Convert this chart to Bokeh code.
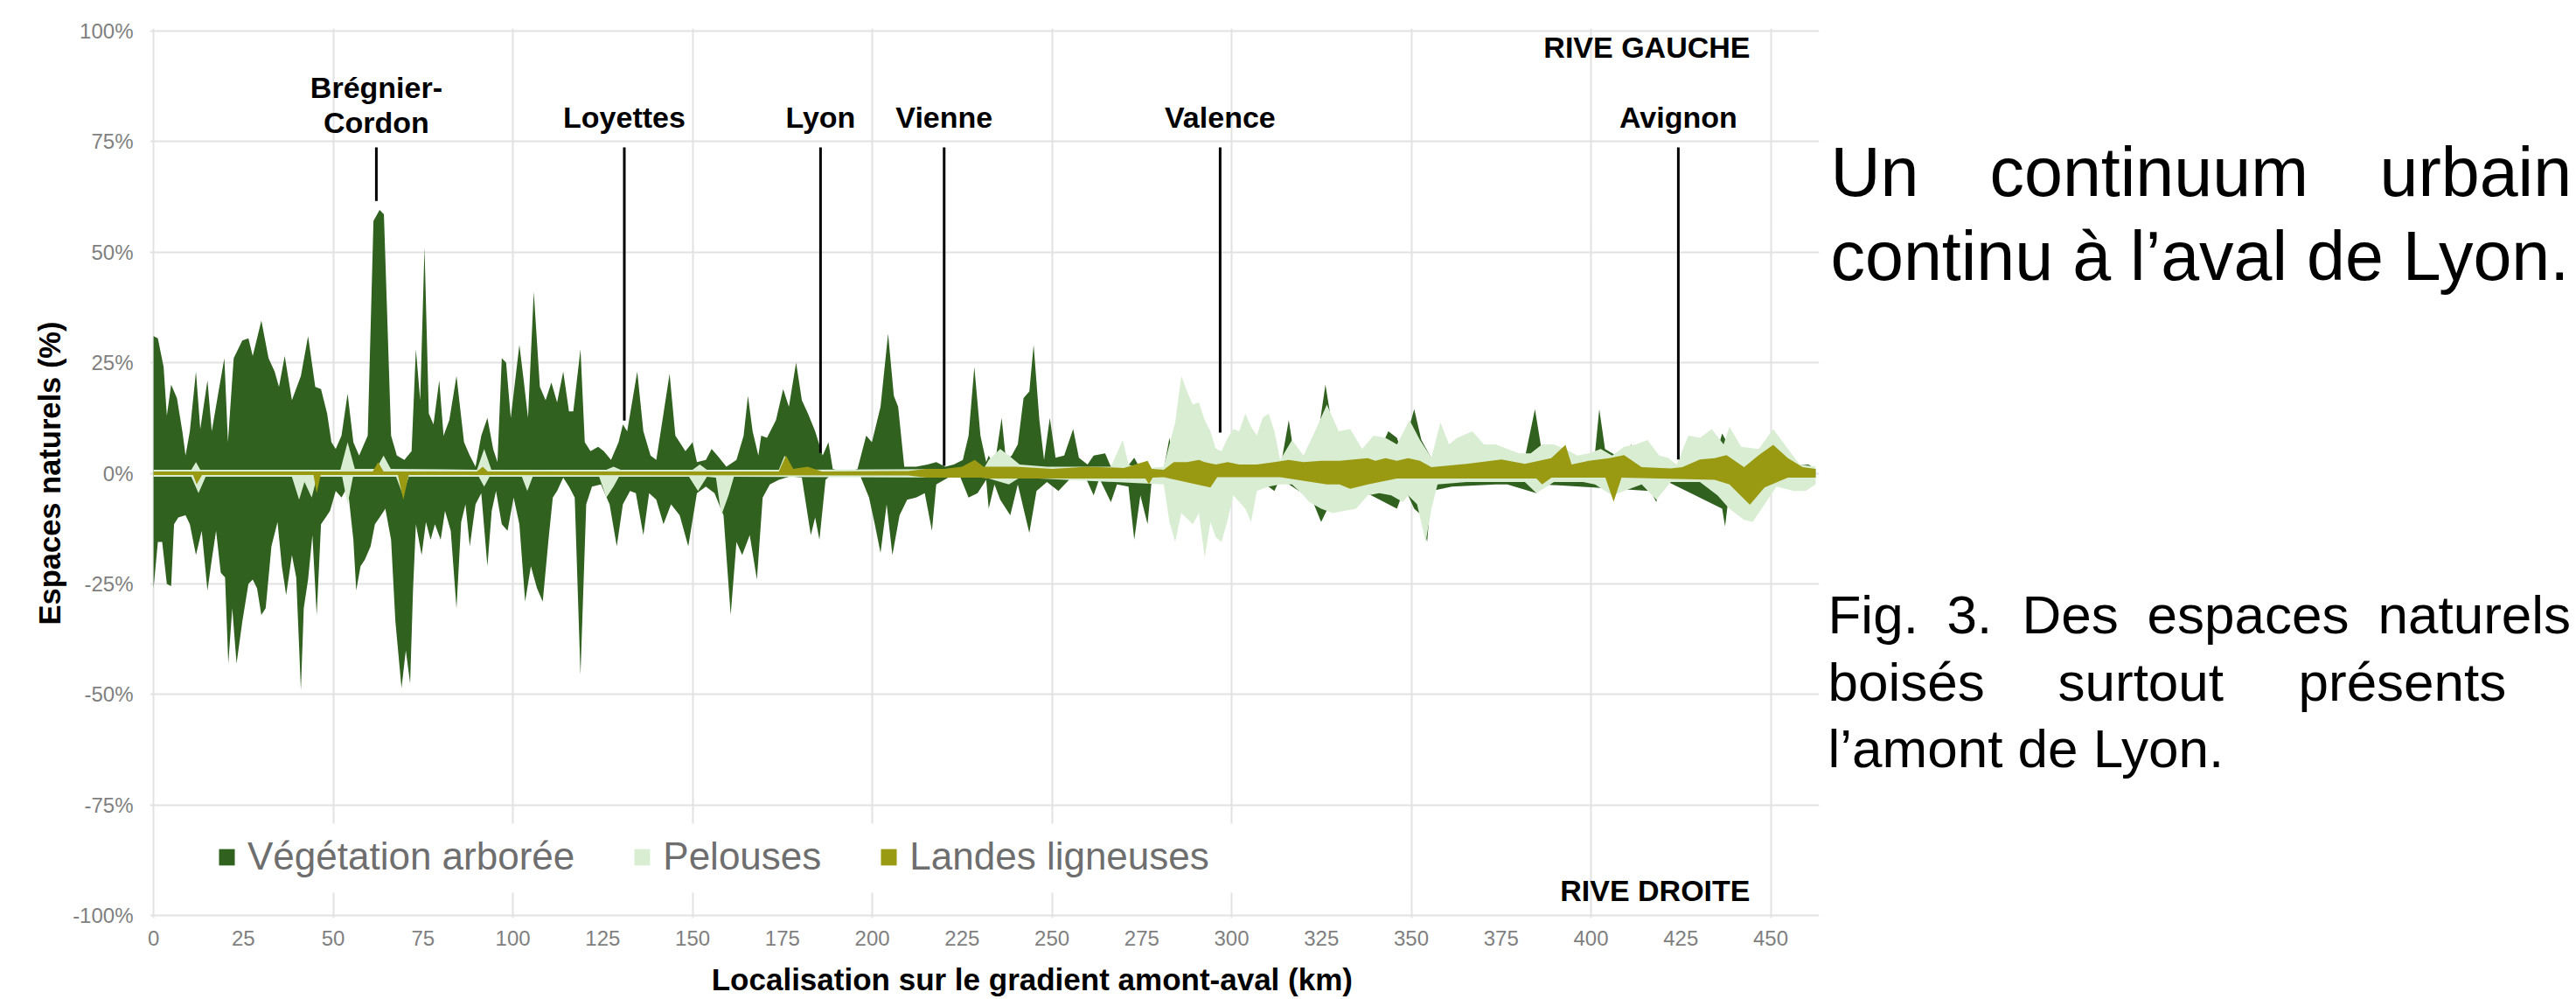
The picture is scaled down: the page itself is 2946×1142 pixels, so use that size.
from bokeh.plotting import figure
from bokeh.layouts import row, column
from bokeh.models import (Range1d, FixedTicker, PrintfTickFormatter, Label, Legend,
                          LegendItem, BoxAnnotation)
from bokeh.embed import file_html
from bokeh.resources import INLINE

# ---------------- data (km along the Rhône, % of natural spaces) ----------------
# Positive = rive gauche, negative = rive droite
VEG_GAUCHE = [(0,31),(1.2,30.5),(2.8,24),(3.7,13),(4.9,20),(6.5,17),(8.1,9),(8.9,4),(10.1,9.5),(11.8,23),
    (13,10),(15,21),(16.2,9.5),(18.2,19),(19.7,26),(20.7,7),(22.3,26),(24.7,30),(26.4,30.5),(27.6,26.5),
    (30,34.5),(32,26),(33.7,23),(34.9,19.5),(36.5,26.5),(38.5,16.5),(41,22),(43,31),(45,19.5),(46.6,19),
    (48.3,13.5),(49.5,7),(50.7,5.5),(52.3,8.5),(54,18),(55.6,7),(57.2,4),(59.6,8.5),(61.2,57),(62.9,59.5),
    (64.1,58.5),(66.1,8.5),(67.7,4),(69.8,3),(71.8,5),(73,28),(74.2,16.5),(75.4,51),(76.6,13.5),(77.9,11),
    (79.5,21),(80.7,8.5),(82.3,12),(84.3,22),(86.4,7),(88,4),(89.6,1.5),(91.2,8.5),(92.9,12.5),(94.5,5.5),
    (95.7,2.5),(96.9,26),(98.1,25),(99.4,12.5),(101.8,29),(103,21),(104.2,12.5),(105.8,41),(107.5,19.5),
    (109.1,16.5),(110.7,20.5),(112.3,16),(114,23),(115.6,14),(116.8,14),(118.8,28),(120,7),(121.6,5),
    (123.7,6),(125.3,5),(127.3,3),(129.4,7),(130.6,11),(131.8,9.5),(134.6,23),(136.3,9.5),(138.3,4),
    (139.9,3),(141.9,13.5),(143.6,22.5),(145.2,8.5),(148,5),(150,7),(151.2,2.5),(153.7,3),(155.3,5.5),
    (156.9,4),(159.4,1.5),(162.2,3),(164.2,8.5),(165.4,17.5),(166.7,9.5),(168.3,4),(169.1,8.5),(170.7,8),
    (173.2,12),(175.2,19),(176.8,15),(178.8,25),(180.4,16.5),(182.1,13.5),(184.1,9.5),(186.2,4),(187.8,7),
    (189,1),(191,0.5),(193.4,0.2),(195.9,1),(198.3,8.5),(199.9,7),(202.3,15),(204.4,31.5),(206,17.5),
    (207.2,15),(208.9,1.5),(212.2,1.5),(215.4,2),(217.8,2.5),(220.3,1.5),(222.7,2),(225.2,3),(226.8,8.5),
    (228.4,24),(230.1,8.5),(231.7,2.5),(232.4,4),(234,1.5),(236,12.5),(237.2,3),(238.8,4),(240.5,6.5),
    (242.1,17),(243.7,18.5),(244.9,29),(246.5,12),(247.8,3),(249.4,12.5),(251,3.5),(253.4,4),(255.9,10),
    (257.5,3.5),(259.9,2),(261.6,4),(264.8,4.5),(266.4,1.5),(268.1,3.5),(270.5,1),(272.9,3.5),(274.6,1),
    (281.1,1),(282.7,8),(283.9,1.5),(295.6,5.5),(297.2,4.5),(298.9,1),(313.5,1),(315.9,12),(317.6,3),
    (320,4),(323.2,4),(326.1,20),(328.1,10),(329.8,4),(336.3,4),(341.1,5),(343.6,9.5),(346,8),(347.7,4),
    (349.1,9.5),(350.8,14.5),(352.8,7.5),(355.2,4),(357.3,1),(381.6,3.5),(384.4,14.5),(386,6.5),(388,1),
    (401.1,4.5),(402.3,14.5),(403.9,5.5),(409,3),(411.2,6.5),(413.3,2),(420,1),(434,2),(436.5,9),
    (438.1,6.5),(440.1,4),(445,1),(460.5,2),(462.5,1)]

VEG_DROITE = [(0,-26),(1.2,-15.5),(2.4,-15.5),(3.7,-25),(4.9,-25.5),(5.7,-11.5),(6.9,-10),(8.9,-9.5),
    (10.1,-11.5),(11.8,-18.5),(13.4,-13),(15,-26.5),(16.2,-19.5),(17.4,-13),(18.7,-22.5),(19.9,-23.5),
    (20.8,-43),(21.9,-30.5),(23.1,-43),(24.7,-33.5),(26.4,-25),(27.6,-24),(28.8,-26),(30,-32),(31.2,-30.5),
    (32.8,-16.5),(34.5,-11),(35.7,-21),(36.9,-27.5),(38.5,-18.5),(39.7,-23.5),(41,-49),(41.8,-30.5),
    (43,-24),(44.2,-14),(45.4,-32),(46.6,-11.5),(47.9,-10),(49.1,-8.5),(50.7,-4),(52.3,-5.5),(54,-3),
    (55.6,-15),(56.4,-26.5),(57.6,-21),(58.8,-19.5),(60.4,-16.5),(61.6,-11.5),(62.9,-10),(64.5,-8),
    (66.1,-15),(67.3,-33.5),(69,-48.5),(70.2,-40),(71.4,-47.5),(72.2,-26.5),(73,-11.5),(74.6,-18.5),
    (75.8,-11),(77.1,-15),(78.3,-11.5),(79.9,-15),(81.1,-8.5),(82.7,-13),(84.3,-30.5),(85.6,-11),(86.8,-7),
    (88,-16.5),(89.6,-7),(91.2,-4.5),(92.9,-21),(94.1,-8.5),(95.3,-4),(96.9,-11.5),(98.5,-13),(100.2,-5.5),
    (101.8,-11.5),(103.4,-29),(105,-21),(106.7,-26),(108.3,-29),(109.9,-15),(111.1,-5.5),(112.3,-4),
    (114,-1),(115.6,-3),(117.2,-5.5),(118.8,-45.5),(120.4,-7),(122,-3),(124.5,-2.5),(126.9,-7),(128.9,-16.5),
    (130.6,-7),(132.6,-4),(134.2,-4.5),(136.3,-14),(137.9,-4.5),(139.9,-6),(141.9,-11.5),(144,-7),
    (146.4,-9.5),(148.8,-16.5),(151.2,-4.5),(153.7,-3),(156.1,-4.5),(158.6,-9.5),(160.6,-32),(162.2,-15.5),
    (163.8,-18.5),(165.9,-14),(167.9,-24),(169.5,-5.5),(171.5,-2.5),(174,-1.5),(177.2,-0.7),(180.4,-1),
    (182.9,-14),(184.1,-10),(185.3,-15),(187,-1.5),(188.6,-0.3),(192.6,-0.3),(196.7,-0.7),(199.1,-5.5),
    (200.7,-11.5),(202.3,-18),(204,-7),(205.6,-18.5),(207.6,-9.5),(209.7,-6),(212.2,-5.5),(214.6,-4.5),
    (216.6,-13),(217.8,-2.5),(221.1,-1),(224.4,-0.7),(226.8,-5.5),(229.3,-4.5),(231.7,-1.5),(232.4,-8),
    (234,-2.5),(235.6,-6),(238.4,-9.5),(240.5,-2.5),(243.7,-13.5),(245.7,-4),(248.6,-2),(251.8,-4),
    (255.1,-1.2),(259.1,-0.5),(261.6,-5),(263.2,-1.2),(266.4,-6.5),(268.1,-2.5),(271.3,-3),(272.9,-15),
    (274.6,-5),(276.6,-11.5),(277.8,-1.2),(281.1,-0.5),(295.6,-1.2),(309.4,-2.5),(311.9,-4),(313.5,-1.2),
    (322.4,-6),(324.9,-11),(327.3,-7),(329.8,-1.2),(346,-8),(348.5,-2.5),(349.1,-5),(350.8,-8),(352.8,-9.5),
    (354.4,-15.5),(355.6,-4),(361.3,-3),(373.5,-2.5),(376.7,-2.5),(384.8,-4.5),(386.4,-2.5),(416.5,-4),
    (418.2,-6.5),(419,-1),(436.5,-8),(437.3,-12),(438.5,-4),(445,-1),(462.5,-1)]

PEL_GAUCHE = [(0,0.8),(10.5,0.8),(11.8,2.5),(13,0.8),(52,0.8),(54,7),(56,1),(62,1),(64,4),(66,1),(90,0.8),
    (92,5.5),(94,0.8),(126,0.8),(128,1.5),(130,0.8),(150,0.8),(152,2),(154,0.8),(174,0.8),(175.6,4),(177,0.8),
    (231,1),(232.4,3),(235.6,5.5),(238,4),(241,2),(248.6,1.5),(266.4,1.5),(269.7,7.5),(271.3,2),(274.6,1),
    (281.1,1.5),(284.3,11.5),(286,22),(287.6,18.5),(289.2,15.5),(290.9,16),(292.5,12),(294.1,9.5),
    (295.6,5.5),(297.2,5),(298.9,8),(300.5,10),(302.1,9.5),(303.8,13.5),(305.4,10.5),(307,8.5),(308.6,12.5),
    (310.3,13.5),(311.9,9.5),(313.5,3),(316.8,7.5),(320,4),(323.2,9.5),(326.5,15.5),(329.8,9.5),(333,10),
    (336.3,5.5),(339.5,8.5),(342.8,8),(346,6.5),(349.5,12),(352.4,7.5),(355.6,3.5),(358.1,11.5),(360.5,6.5),
    (362.8,8),(367,9.5),(370.2,6.5),(373.5,6.5),(376.7,5.5),(380,4.5),(383.2,4.5),(386.4,6.5),(389.7,6.5),
    (392.9,5.5),(396.2,4),(399.4,4.5),(402.7,5.5),(405.9,4),(409.2,6),(412.5,6.5),(415.7,7.5),(419,4),
    (421.4,3.5),(423.8,2),(427.1,8.5),(430.3,8),(433.6,10),(436.9,6.5),(438.5,10.5),(441.8,6),(446.7,5.5),
    (450.7,10),(454.8,5.5),(458.1,2),(462.5,1.5)]

PEL_DROITE = [(0,-0.8),(10.5,-0.8),(12.5,-4.5),(14.5,-0.8),(38.5,-0.8),(40.5,-6),(42,-2),(44,-5.5),
    (45.5,-0.8),(52.5,-0.8),(54,-7),(55.5,-0.8),(67.5,-0.8),(69.4,-5),(71,-0.8),(90.5,-0.8),(92,-3),
    (93.5,-0.8),(102.5,-0.8),(104,-4),(105.5,-0.8),(124,-0.8),(126,-5.5),(128,-3),(129.5,-0.8),(149,-0.8),
    (151.5,-4),(154,-0.8),(156.5,-1),(158,-9.5),(160,-5),(161.5,-0.8),(231,-1),(232.4,-1.2),(238,-2.5),
    (241,-1),(281.1,-2.5),(282.7,-11),(284.3,-15.5),(286,-9),(289.2,-11.5),(290.9,-9),(292.5,-19),
    (294.1,-11),(295.6,-14.5),(297.2,-15.5),(298.9,-10.5),(300.5,-5),(303.8,-8),(305.4,-11),(307,-4),
    (310.3,-3),(313.5,-2.5),(316.8,-2.5),(320,-5),(321.6,-6.5),(324.9,-8),(328.1,-9),(331.4,-8.5),
    (334.6,-8),(337.9,-5),(341.1,-4.5),(344.4,-5),(347.7,-6.5),(349.1,-5),(351.6,-7),(354,-15.5),
    (355.6,-8),(357.3,-2.5),(365.4,-2),(381.6,-2),(384.8,-4.5),(389.7,-2),(397.8,-2),(401.1,-2.5),
    (405.9,-5),(414.1,-2.5),(418.2,-6),(422.2,-2),(430.3,-2),(435.2,-5),(438.5,-8),(442.6,-10.5),
    (445,-11),(448.3,-7),(451.6,-3),(456.4,-4),(459.7,-4),(462.5,-2.5)]

LAN_GAUCHE = [(0,0.4),(61,0.4),(62.5,2.5),(64,0.4),(90,0.4),(91.6,1.5),(93,0.4),(174,0.4),(176,4),(178,1),
    (182,1.5),(186,0.4),(210,0.5),(215,1),(220,1),(225,1.5),(228.5,3),(231,1.5),(232.4,1.5),(240,1.5),
    (250,1),(260,1.5),(270,1.2),(276.6,2.8),(277.8,1),(281.1,0.8),(283.9,2.5),(287.6,2.5),(290.9,3),
    (292.5,2.5),(295.6,2),(298.9,2.5),(302.1,2),(307,2),(311.9,2.5),(315.9,3),(320,2.5),(325,2.8),(330,2.8),
    (337.9,3.4),(340,2.8),(342.8,3.4),(346,2.8),(349.1,3.4),(352.4,2.8),(355.6,1.4),(365.4,2.1),(375.1,3.1),
    (381.6,2.1),(388.9,3.4),(392.9,6.4),(394.6,2),(399.4,2.8),(405.1,3.4),(409.2,4.1),(414.1,1.4),
    (422.2,1.1),(425.4,1.4),(430.3,3.1),(434.4,3.4),(437.7,4.1),(442.6,1.4),(446.7,4.1),(450.7,6.4),
    (454.8,3.4),(458.9,1.4),(462.5,1)]

LAN_DROITE = [(0,-0.4),(11,-0.4),(12,-2.5),(13.5,-0.4),(44.5,-0.4),(45.4,-4.5),(46.5,-0.4),(68,-0.4),
    (69.5,-6),(71,-0.4),(210,-0.5),(215,-1),(230,-1),(232.4,-1.2),(276,-1.2),(277,-2.5),(278,-1),
    (281.1,-0.9),(294.1,-3.2),(296,-0.9),(313.5,-0.9),(326.5,-2.5),(330,-2.5),(333,-3.5),(337.9,-2.5),
    (346,-1.2),(349.1,-1.2),(384.8,-1.2),(386.4,-2.5),(389,-1),(404,-1),(406.3,-6.4),(408.5,-1),
    (434.4,-1.5),(438.5,-2.5),(444.2,-7.1),(448.3,-3.2),(454.8,-1),(462.5,-1)]

SERIES_NAMES = ["Végétation arborée", "Pelouses", "Landes ligneuses"]

CITY_LABELS = ["Loyettes", "Lyon", "Vienne", "Valence", "Avignon"]
CITY_KM = [131, 185.6, 220, 296.8, 424.3]
CITY_LINE_BOTTOM = [11.9, 4.6, 1.7, 9.2, 3.1]
BREGNIER_KM = 62
BREGNIER_LINE_BOTTOM = 61.5
CITY_LINE_TOP = 73.6

X_TICKS = list(range(0, 451, 25))
X_GRID = list(range(0, 451, 50))
Y_TICKS = list(range(-100, 101, 25))

# ---------------- styling / geometry (page pixels) ----------------
C_VEG = "#30611f"
C_PEL = "#d9edd3"
C_LAN = "#9a9a12"
FONT = "Liberation Sans"

PAGE_W, PAGE_H = 2946, 1142
BL, BR, BT, BB = 171, 10, 32, 51
FW = 1909
W = BL + FW + BR            # chart canvas width
H = 1100                    # chart canvas height
H3 = PAGE_H - H             # strip for the x title
W2 = PAGE_W - W             # side text canvas
X0, X1 = -1.0, 463.5
Y0, Y1 = -100.5, 100.5
FH = H - BT - BB


def px_x(px):
    """page pixel -> data x of the chart"""
    return X0 + (px - BL) * (X1 - X0) / FW


def px_y(py):
    """page pixel -> data y of the chart"""
    return Y1 - (py - BT) * (Y1 - Y0) / FH


def mid(baseline, size):
    """vertical middle of a text line whose baseline is at page pixel `baseline`"""
    return baseline - 0.35 * size


def unzip(pairs):
    return [a for a, _ in pairs], [b for _, b in pairs]


def blank(width, height, x_range, y_range):
    f = figure(width=width, height=height, x_range=x_range, y_range=y_range, title=None,
               x_axis_location=None, y_axis_location=None, output_backend="svg",
               toolbar_location=None, min_border=0)
    f.outline_line_color = None
    f.grid.visible = False
    f.background_fill_color = "white"
    f.border_fill_color = "white"
    return f


p = figure(width=W, height=H, x_range=Range1d(X0, X1), y_range=Range1d(Y0, Y1), title=None,
           output_backend="svg", toolbar_location=None,
           min_border_left=BL, min_border_right=BR, min_border_top=BT, min_border_bottom=BB)
p.outline_line_color = None
p.background_fill_color = "white"
p.border_fill_color = "white"

p.xaxis.ticker = FixedTicker(ticks=X_TICKS)
p.yaxis.ticker = FixedTicker(ticks=Y_TICKS)
p.xgrid.ticker = FixedTicker(ticks=X_GRID)
p.ygrid.ticker = FixedTicker(ticks=Y_TICKS)
p.yaxis.formatter = PrintfTickFormatter(format="%d%%")
p.grid.grid_line_color = "#e2e2e2"
p.grid.grid_line_width = 2

for ax in (p.xaxis[0], p.yaxis[0]):
    ax.axis_line_color = None
    ax.major_tick_line_color = None
    ax.minor_tick_line_color = None
    ax.major_tick_out = 0
    ax.major_tick_in = 0
    ax.major_label_text_font = FONT
    ax.major_label_text_font_size = "24px"
    ax.major_label_text_color = "#7f7f7f"
p.xaxis.major_label_standoff = 14
p.yaxis.major_label_standoff = 19
p.yaxis.axis_label = "Espaces naturels (%)"
p.yaxis.axis_label_text_font = FONT
p.yaxis.axis_label_text_font_style = "bold"
p.yaxis.axis_label_text_font_size = "34.5px"
p.yaxis.axis_label_text_color = "black"
p.yaxis.axis_label_standoff = 4

# ---------------- areas ----------------
renderers = {}
for name, color, left, right in [("veg", C_VEG, VEG_GAUCHE, VEG_DROITE),
                                 ("pel", C_PEL, PEL_GAUCHE, PEL_DROITE),
                                 ("lan", C_LAN, LAN_GAUCHE, LAN_DROITE)]:
    rs = []
    for pairs in (left, right):
        xs, ys = unzip(pairs)
        rs.append(p.varea(x=xs, y1=0, y2=ys, fill_color=color, fill_alpha=1.0))
    renderers[name] = rs

# ---------------- city markers ----------------
p.segment(x0=CITY_KM + [BREGNIER_KM], y0=CITY_LINE_BOTTOM + [BREGNIER_LINE_BOTTOM],
          x1=CITY_KM + [BREGNIER_KM], y1=[CITY_LINE_TOP] * (len(CITY_KM) + 1),
          line_color="black", line_width=3)

bold = dict(text_font=FONT, text_font_style="bold", text_color="black", text_baseline="middle")
for name, km in zip(CITY_LABELS, CITY_KM):
    p.add_layout(Label(x=km, y=px_y(mid(145, 34)), text=name, text_align="center",
                       text_font_size="34px", **bold))
p.add_layout(Label(x=BREGNIER_KM, y=px_y(mid(111, 34)), text="Brégnier-", text_align="center",
                   text_font_size="34px", **bold))
p.add_layout(Label(x=BREGNIER_KM, y=px_y(mid(151, 34)), text="Cordon", text_align="center",
                   text_font_size="34px", **bold))
p.add_layout(Label(x=px_x(2001), y=px_y(mid(65, 34)), text="RIVE GAUCHE", text_align="right",
                   text_font_size="34px", **bold))
p.add_layout(Label(x=px_x(2001), y=px_y(mid(1029, 34)), text="RIVE DROITE", text_align="right",
                   text_font_size="34px", **bold))

# ---------------- legend ----------------
p.add_layout(BoxAnnotation(left=10, right=320, bottom=px_y(1020), top=px_y(941),
                           fill_color="white", fill_alpha=1.0, line_color=None))
legend = Legend(items=[LegendItem(label=SERIES_NAMES[0], renderers=renderers["veg"]),
                       LegendItem(label=SERIES_NAMES[1], renderers=renderers["pel"]),
                       LegendItem(label=SERIES_NAMES[2], renderers=renderers["lan"])],
                orientation="horizontal", location=(77, 45),
                background_fill_alpha=0, border_line_color=None, padding=0, margin=0,
                glyph_width=22, glyph_height=23, label_standoff=13, spacing=66,
                label_text_font=FONT, label_text_font_size="44px", label_text_color="#6e6e6e")
p.add_layout(legend)

# ---------------- x title strip (data units = page pixels) ----------------
p3 = blank(W, H3, Range1d(0, W), Range1d(PAGE_H, H))
p3.add_layout(Label(x=1104.5, y=mid(1131, 35), text="Localisation sur le gradient amont-aval (km)",
                    text_align="center", text_font_size="35px", **bold))

# ---------------- side text (data units = page pixels) ----------------
p2 = blank(W2, PAGE_H, Range1d(W, PAGE_W), Range1d(PAGE_H, 0))
SIDE_TEXT = [
    (79, 224, [("Un", 2093), ("continuum", 2275), ("urbain", 2721)]),
    (79, 320, [("continu à l’aval de Lyon.", 2093)]),
    (62, 724, [("Fig.", 2090), ("3.", 2226), ("Des", 2312), ("espaces", 2455), ("naturels", 2719)]),
    (62, 801, [("boisés", 2090), ("surtout", 2353), ("présents", 2628)]),
    (62, 876.5, [("l’amont de Lyon.", 2090)]),
]
for size, base, words in SIDE_TEXT:
    for word, x in words:
        p2.add_layout(Label(x=x, y=mid(base, size), text=word, text_align="left",
                            text_baseline="middle", text_font=FONT, text_font_size=f"{size}px",
                            text_color="black"))

layout = row(column(p, p3), p2)
open("out.html", "w").write(file_html(layout, INLINE))
